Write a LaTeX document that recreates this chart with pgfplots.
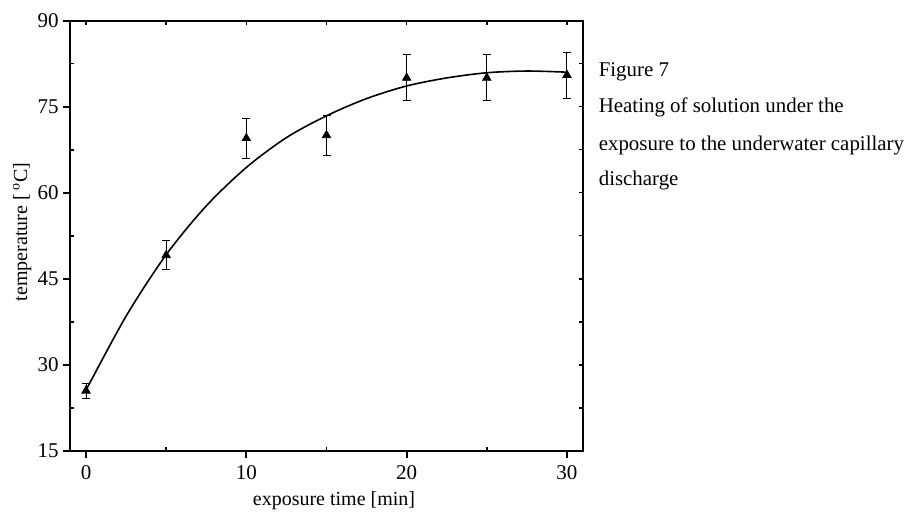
\documentclass[border=0pt]{standalone}
\usepackage{fontspec}
\setmainfont{Liberation Serif}
\usepackage{pgfplots}
\pgfplotsset{compat=1.18}

\begin{document}
\begin{tikzpicture}
\useasboundingbox (-35pt,-30pt) rectangle (418pt,225.5pt);

% common frame
\pgfplotsset{
  frame/.style={
    scale only axis, width=256.5pt, height=215.25pt,
    at={(0,0)}, anchor=south west,
    xmin=-1, xmax=31, ymin=15, ymax=90,
    axis line style={line width=1pt},
  }
}

% inward ticks on top and right
\begin{axis}[frame,
  xtick={0,5,...,30}, xtick pos=top,
  ytick={15,22.5,...,90}, ytick pos=right,
  xticklabels={}, yticklabels={},
  tick align=inside, major tick length=2pt,
  every tick/.style={black, line width=0.7pt}]
\end{axis}

% inward minor ticks on bottom and left
\begin{axis}[frame,
  xtick={5,15,25}, xtick pos=bottom,
  ytick={22.5,37.5,...,82.5}, ytick pos=left,
  xticklabels={}, yticklabels={},
  tick align=inside, major tick length=2pt,
  every tick/.style={black, line width=0.9pt}]
\end{axis}

% main axis with data
\begin{axis}[frame,
  xtick={0,10,20,30}, xtick pos=bottom,
  ytick={15,30,...,90}, ytick pos=left,
  tick align=outside, major tick length=3.5pt,
  every tick/.style={black, line width=1pt},
  tick label style={font=\fontsize{10.5}{12}\selectfont},
  yticklabel style={inner sep=2pt},
  /pgf/number format/assume math mode=true]

% fitted curve
\addplot[black, line width=0.8pt, smooth] coordinates {
  (0,25.6) (2.5,38.5) (5,49.2) (7.5,57.7) (10,64.4) (12.5,69.6)
  (15,73.4) (17.5,76.4) (20,78.6) (22.5,80.0) (25,80.9) (27.5,81.2) (30,81.0)
};

% measured points
\addplot[only marks, black, mark=triangle*, mark size=2.4pt,
  error bars/.cd, y dir=both, y explicit,
  error bar style={line width=0.5pt},
  error mark options={rotate=90, mark size=2pt, line width=0.5pt}]
  coordinates {
  (0,25.5)  +- (0,1.3)
  (5,49.1)  +- (0,2.5)
  (10,69.5) +- (0,3.5)
  (15,70.0) +- (0,3.5)
  (20,80.0) +- (0,4.0)
  (25,80.0) +- (0,4.0)
  (30,80.5) +- (0,4.0)
};
\end{axis}

\node[rotate=90, anchor=base, font=\fontsize{10}{12}\selectfont] at (-21.5pt,109.5pt) {temperature [\,\textsuperscript{o}C]};
\node[anchor=base, font=\fontsize{10}{12}\selectfont] at (132pt,-27pt) {exposure time [min]};

\begin{scope}[every node/.style={anchor=base west, inner sep=0pt, font=\fontsize{10.45}{12}\selectfont}]
\node at (264.2pt,187.2pt) {Figure 7};
\node at (264.2pt,169.2pt) {Heating of solution under the};
\node at (264.2pt,150.5pt) {exposure to the underwater capillary};
\node at (264.2pt,133pt) {discharge};
\end{scope}
\end{tikzpicture}
\end{document}
